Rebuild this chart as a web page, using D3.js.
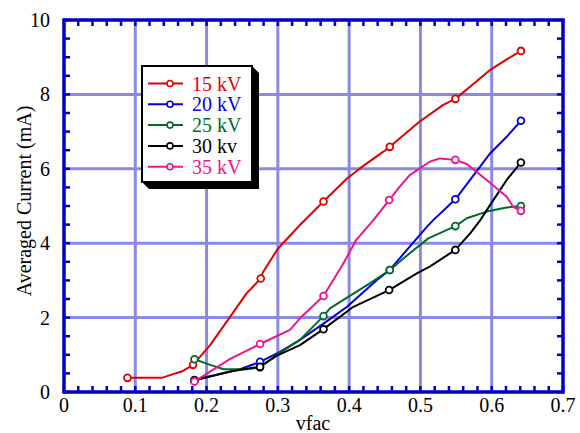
<!DOCTYPE html>
<html>
<head>
<meta charset="utf-8">
<script src="https://cdn.jsdelivr.net/npm/d3@7"></script>
<style>
  body { margin: 0; background: #fff; }
</style>
</head>
<body>
<svg id="chart" width="580" height="433" font-family="'Liberation Serif', 'DejaVu Serif', serif"></svg>
<script>
// [vfac, current mA, marker]
const kv15 = [[0.089,0.38,1],[0.137,0.38],[0.153,0.48],[0.165,0.55],[0.181,0.73,1],[0.205,1.26],[0.233,2.02],[0.256,2.65],[0.276,3.05,1],[0.279,3.22],[0.3,3.85],[0.331,4.49],[0.345,4.76],[0.364,5.12,1],[0.397,5.74],[0.415,6.01],[0.448,6.46],[0.457,6.59,1],[0.499,7.27],[0.532,7.72],[0.549,7.88,1],[0.57,8.21],[0.598,8.66],[0.621,8.94],[0.641,9.17,1]];
const kv20 = [[0.183,0.3,1],[0.195,0.37],[0.247,0.61],[0.275,0.81,1],[0.303,1.08],[0.331,1.4],[0.368,1.89],[0.397,2.29],[0.439,3.01],[0.457,3.28,1],[0.485,3.91],[0.509,4.44],[0.518,4.62],[0.549,5.18,1],[0.598,6.42],[0.621,6.86],[0.641,7.29,1]];
const kv25 = [[0.183,0.88,1],[0.205,0.73],[0.224,0.61],[0.256,0.61],[0.275,0.66,1],[0.298,0.99],[0.331,1.4],[0.364,2.04,1],[0.373,2.25],[0.429,2.92],[0.457,3.28,1],[0.485,3.73],[0.511,4.13],[0.549,4.46,1],[0.565,4.67],[0.593,4.85],[0.621,4.96],[0.641,5.0,1]];
const kv30 = [[0.183,0.32,1],[0.233,0.55],[0.275,0.68,1],[0.298,0.97],[0.331,1.26],[0.364,1.69,1],[0.406,2.29],[0.456,2.74,1],[0.495,3.19],[0.513,3.37],[0.549,3.82,1],[0.57,4.27],[0.584,4.62],[0.593,4.89],[0.621,5.7],[0.641,6.17,1]];
const kv35 = [[0.183,0.28,1],[0.233,0.89],[0.275,1.29,1],[0.317,1.67],[0.331,1.98],[0.364,2.58,1],[0.392,3.46],[0.41,4.09],[0.434,4.62],[0.456,5.16,1],[0.471,5.52],[0.485,5.83],[0.513,6.19],[0.527,6.28],[0.549,6.24,1],[0.565,6.13],[0.593,5.7],[0.621,5.25],[0.63,4.98],[0.641,4.87,1]];

const seriesNames = ['15 kV', '20 kV', '25 kV', '30 kv', '35 kV'];
const seriesColors = ['#e00000', '#0000e0', '#006a28', '#000000', '#f0148c'];
const series = [kv15, kv20, kv25, kv30, kv35];

const xTicks = [0, 0.1, 0.2, 0.3, 0.4, 0.5, 0.6, 0.7];
const yTicks = [0, 2, 4, 6, 8, 10];

const svg = d3.select('#chart');
const pL = 64, pR = 563, pT = 20, pB = 392;
const axisColor = '#0000c8', gridColor = '#8a8ae6';

const x = d3.scaleLinear().domain([0, 0.7]).range([pL, pR]);
const y = d3.scaleLinear().domain([0, 10]).range([pB, pT]);

// grid
const grid = svg.append('g').attr('class', 'grid');
grid.selectAll('line.vx').data(xTicks.slice(1, -1)).join('line')
  .attr('x1', d => x(d)).attr('x2', d => x(d)).attr('y1', pT).attr('y2', pB)
  .attr('stroke', gridColor).attr('stroke-width', 3);
grid.selectAll('line.hy').data(yTicks.slice(1, -1)).join('line')
  .attr('y1', d => y(d)).attr('y2', d => y(d)).attr('x1', pL).attr('x2', pR)
  .attr('stroke', gridColor).attr('stroke-width', 3);

// minor ticks
const xMinor = d3.range(0, 71, 2).map(d => d / 100);
const yMinor = d3.range(0, 21).map(d => d / 2);
const ticks = svg.append('g').attr('stroke', axisColor).attr('stroke-width', 2.5);
xMinor.forEach(d => {
  ticks.append('line').attr('x1', x(d)).attr('x2', x(d)).attr('y1', pB).attr('y2', pB - 6);
  ticks.append('line').attr('x1', x(d)).attr('x2', x(d)).attr('y1', pT).attr('y2', pT + 6);
});
yMinor.forEach(d => {
  ticks.append('line').attr('y1', y(d)).attr('y2', y(d)).attr('x1', pL).attr('x2', pL + 6);
  ticks.append('line').attr('y1', y(d)).attr('y2', y(d)).attr('x1', pR).attr('x2', pR - 6);
});

// frame
svg.append('rect').attr('x', pL).attr('y', pT)
  .attr('width', pR - pL).attr('height', pB - pT)
  .attr('fill', 'none').attr('stroke', axisColor).attr('stroke-width', 3.5);

// tick labels
svg.append('g').selectAll('text').data(xTicks).join('text')
  .attr('x', d => x(d)).attr('y', 412).attr('text-anchor', 'middle')
  .attr('font-size', 20).text(d => d === 0 ? '0' : d3.format('.1f')(d));
svg.append('g').selectAll('text').data(yTicks).join('text')
  .attr('x', 50).attr('y', d => y(d) + 7).attr('text-anchor', 'end')
  .attr('font-size', 20).text(d => d);

svg.append('text').attr('x', 313).attr('y', 430).attr('text-anchor', 'middle')
  .attr('font-size', 20).text('vfac');
svg.append('text').attr('transform', 'translate(31,201) rotate(-90)')
  .attr('text-anchor', 'middle').attr('font-size', 20).text('Averaged Current (mA)');

// curves
const line = d3.line().x(d => x(d[0])).y(d => y(d[1]));
const curves = svg.append('g');
series.forEach((s, i) => {
  const g = curves.append('g');
  g.append('path').attr('d', line(s)).attr('fill', 'none')
    .attr('stroke', seriesColors[i]).attr('stroke-width', 2).attr('stroke-linejoin', 'round');
  g.selectAll('circle').data(s.filter(d => d[2])).join('circle')
    .attr('cx', d => x(d[0])).attr('cy', d => y(d[1])).attr('r', 3.4)
    .attr('fill', '#fff').attr('stroke', seriesColors[i]).attr('stroke-width', 1.8);
});

// legend
const lg = svg.append('g').attr('transform', 'translate(142,66)');
const lw = 110, lh = 116, off = 7;
lg.append('path')
  .attr('d', `M${lw},0 L${lw + off},${off} L${lw + off},${lh + off} L${off},${lh + off} L0,${lh} Z`)
  .attr('fill', '#000');
lg.append('rect').attr('width', lw).attr('height', lh)
  .attr('fill', '#fff').attr('stroke', '#000').attr('stroke-width', 2);
seriesNames.forEach((n, i) => {
  const yy = 17.5 + i * 20.8;
  lg.append('line').attr('x1', 6).attr('x2', 41).attr('y1', yy).attr('y2', yy)
    .attr('stroke', seriesColors[i]).attr('stroke-width', 2);
  lg.append('circle').attr('cx', 28).attr('cy', yy).attr('r', 3)
    .attr('fill', '#fff').attr('stroke', seriesColors[i]).attr('stroke-width', 1.6);
  lg.append('text').attr('x', 50).attr('y', yy + 7).attr('font-size', 20)
    .attr('fill', seriesColors[i]).text(n);
});
</script>
</body>
</html>
